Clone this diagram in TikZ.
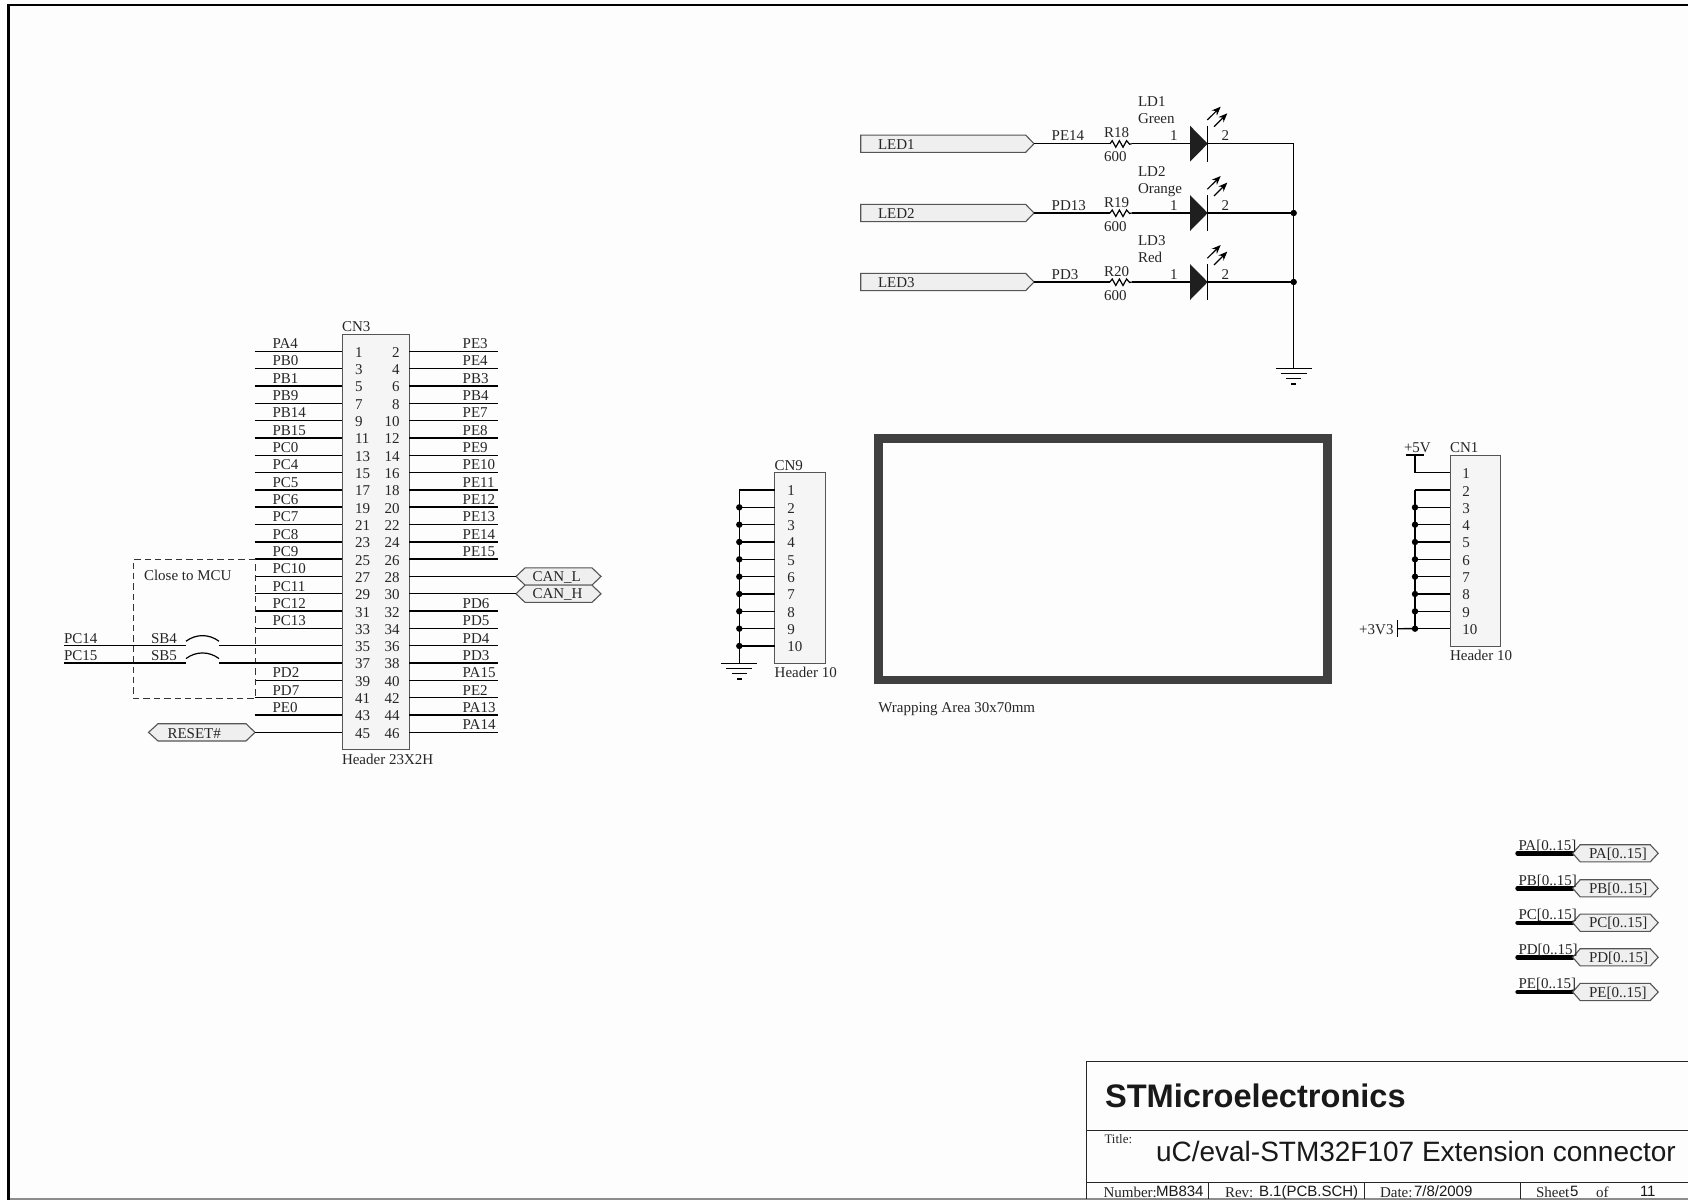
\documentclass[tikz,border=0pt]{standalone}
\usepackage{fontspec}
\setmainfont{Liberation Serif}
\newfontfamily\arialf{Liberation Sans}
\usetikzlibrary{arrows.meta}
\definecolor{paper}{HTML}{FDFDFD}
\definecolor{boxfill}{HTML}{F5F5F5}
\definecolor{flagfill}{HTML}{EFEFEF}
\definecolor{boxline}{HTML}{555555}
\definecolor{wrapline}{HTML}{404040}
\tikzset{
  lbl/.style={inner sep=0pt,outer sep=0pt,anchor=base west,text=black!85,yshift=-0.35pt,font=\fontsize{7.5}{9}\selectfont},
  lblr/.style={lbl,anchor=base east},
  pinnum/.style={inner sep=0pt,outer sep=0pt,anchor=west,text=black!85,yshift=-0.5pt,font=\fontsize{7.5}{9}\selectfont},
  pinnumr/.style={pinnum,anchor=east},
  wire/.style={draw=black,line width=0.7pt},
  conbox/.style={draw=boxline,fill=boxfill,line width=0.5pt},
  flag/.style={draw=boxline,fill=flagfill,line width=0.55pt,line join=miter},
  bus/.style={draw=black,line width=2.2pt,line cap=round},
  frameline/.style={draw=black,line width=1.3pt},
  tb/.style={draw=black!85,line width=0.5pt},
  arialtxt/.style={inner sep=0pt,outer sep=0pt,anchor=base west,text=black!90},
  jdot/.style={fill=black},
  ledarrow/.style={draw=black,line width=0.6pt,-{Stealth[length=4.5pt,width=3.6pt]}}
}
\newcommand{\gndsym}[2]{%
  \draw[wire] (#1-18,#2) -- (#1+18,#2);
  \draw[wire] (#1-13,#2+5.2) -- (#1+13,#2+5.2);
  \draw[wire] (#1-7.5,#2+10.4) -- (#1+7.5,#2+10.4);
  \draw[wire] (#1-2.5,#2+15.6) -- (#1+2.5,#2+15.6);
}
\begin{document}
\begin{tikzpicture}[x=0.5pt,y=-0.5pt]
\useasboundingbox (0,0) rectangle (1688,1200);
\fill[paper] (0,0) rectangle (1688,1200);
% sheet frame
\draw[draw=black!45,line width=0.6pt] (8.7,1199) -- (1688,1199);
\draw[frameline] (8.7,1200) -- (8.7,5) -- (1688,5);

% ---------- CN3 ----------
\draw[conbox] (342,334.3) rectangle (409.3,749.5);
\coordinate (cn3box) at (342,334.3);
\node[lbl] (cn3ref) at (342,331) {CN3};
\node[lbl] (cn3val) at (342,763.5) {Header 23X2H};
\foreach \i in {1,...,23}{
  \coordinate (cl\i) at (342,{351.3+(\i-1)*17.32});
  \coordinate (cr\i) at (409.3,{351.3+(\i-1)*17.32});
  \coordinate (el\i) at (254.6,{351.3+(\i-1)*17.32});
  \coordinate (er\i) at (498.3,{351.3+(\i-1)*17.32});
  \pgfmathtruncatemacro{\odd}{2*\i-1}
  \pgfmathtruncatemacro{\even}{2*\i}
  \node[pinnum] (po\i) at (355,{351.3+(\i-1)*17.32}) {\odd};
  \node[pinnumr] (pe\i) at (399.5,{351.3+(\i-1)*17.32}) {\even};
}
\foreach \i/\t in {1/PA4,2/PB0,3/PB1,4/PB9,5/PB14,6/PB15,7/PC0,8/PC4,9/PC5,10/PC6,11/PC7,12/PC8,13/PC9,14/PC10,15/PC11,16/PC12,17/PC13,20/PD2,21/PD7,22/PE0}{
  \draw[wire] (el\i) -- (cl\i);
  \node[lbl] (ll\i) at ([shift={(18,-3.4)}]el\i) {\t};
}
\foreach \i/\t in {1/PE3,2/PE4,3/PB3,4/PB4,5/PE7,6/PE8,7/PE9,8/PE10,9/PE11,10/PE12,11/PE13,12/PE14,13/PE15,16/PD6,17/PD5,18/PD4,19/PD3,20/PA15,21/PE2,22/PA13,23/PA14}{
  \draw[wire] (cr\i) -- (er\i);
  \node[lbl] (lr\i) at ([shift={(-35.6,-3.4)}]er\i) {\t};
}
% CAN flags
\foreach \i/\t/\nm in {14/CAN\_L/canl,15/CAN\_H/canh}{
  \coordinate (\nm) at (516,{351.3+(\i-1)*17.32});
  \draw[flag] (\nm) -- ++(9,-8.6) -- ++(67,0) -- ++(9,8.6) -- ++(-9,8.6) -- ++(-67,0) -- cycle;
  \node[pinnum] (\nm t) at ([shift={(16.5,0)}]\nm) {\t};
  \draw[wire] (cr\i) -- (\nm);
}
% RESET flag
\coordinate (rsttip) at (255,{351.3+22*17.32});
\draw[flag] (rsttip) -- ++(-9,-8.6) -- ++(-88,0) -- ++(-9.5,8.6) -- ++(9.5,8.6) -- ++(88,0) -- cycle;
\node[pinnum] (rstt) at ([shift={(-87.5,0)}]rsttip) {RESET\#};
\draw[wire] (rsttip) -- (cl23);
% Close to MCU dashed area
\draw[draw=black!80,line width=0.45pt,dash pattern=on 3.2pt off 2pt] (255,559.3) -- (133.4,559.3) -- (133.4,698.2) -- (255,698.2) -- (255,559.3);
\node[lbl] (closemcu) at (144,580) {Close to MCU};
% solder bridges
\foreach \i/\sb/\pc/\nm in {18/SB4/PC14/a,19/SB5/PC15/b}{
  \coordinate (sbl\nm) at (186,{351.3+(\i-1)*17.32});
  \coordinate (sbr\nm) at (219,{351.3+(\i-1)*17.32});
  \coordinate (pc\nm) at (64,{351.3+(\i-1)*17.32});
  \draw[wire] (pc\nm) -- (sbl\nm);
  \draw[wire] (sbr\nm) -- (cl\i);
  \draw[draw=black,line width=0.6pt] ([shift={(0,-4.5)}]sbl\nm) .. controls ([shift={(10,-12)}]sbl\nm) and ([shift={(23,-12)}]sbl\nm) .. ([shift={(0,-4.5)}]sbr\nm);
  \node[lbl] (sbt\nm) at ([shift={(-35,-3.4)}]sbl\nm) {\sb};
  \node[lbl] (pct\nm) at ([shift={(0,-3.4)}]pc\nm) {\pc};
}

% ---------- LEDs ----------
\foreach \k/\y/\lab/\net/\res/\col in {1/143.7/LED1/PE14/R18/Green,2/213/LED2/PD13/R19/Orange,3/282/LED3/PD3/R20/Red}{
  \coordinate (ledtip\k) at (1034,\y);
  \coordinate (resl\k) at (1110,\y);
  \coordinate (resr\k) at (1131.7,\y);
  \coordinate (dioa\k) at (1190,\y);
  \coordinate (dioc\k) at (1207.7,\y);
  \coordinate (busj\k) at (1293.7,\y);
  \draw[flag] (ledtip\k) -- ++(-8.3,-8.6) -- (860.7,\y-8.6) -- (860.7,\y+8.6) -- (1025.7,\y+8.6) -- cycle;
  \node[pinnum] (ledt\k) at (878,\y) {\lab};
  \draw[wire] (ledtip\k) -- (resl\k);
  \draw[draw=black,line width=0.6pt,line join=miter] (resl\k) -- ++(2.2,-3) -- ++(3.6,6.5) -- ++(3.6,-6.5) -- ++(3.6,6.5) -- ++(3.6,-6.5) -- ++(3,3.5) -- (resr\k);
  \draw[wire] (resr\k) -- (dioa\k);
  \fill[black!88] (1190,\y-18) -- (dioc\k) -- (1190,\y+18) -- cycle;
  \draw[draw=black,line width=0.55pt] (1207.7,\y-18) -- (1207.7,\y+18);
  \draw[wire] (dioc\k) -- (busj\k);
  \draw[ledarrow] (1207.3,\y-23.7) -- (1220.7,\y-37);
  \draw[ledarrow] (1214,\y-17) -- (1227.3,\y-30.4);
  \node[lbl] (nett\k) at (1051.7,\y-3.7) {\net};
  \node[lbl] (rest\k) at (1104,\y-6.5) {\res};
  \node[lbl] (resv\k) at (1104,\y+17.5) {600};
  \node[lbl] (ldn\k) at (1138,\y-37.7) {LD\k};
  \node[lbl] (ldc\k) at (1138,\y-20.5) {\col};
  \node[lbl] (ldp\k) at (1170,\y-3.7) {1};
  \node[lbl] (ldq\k) at (1221.7,\y-3.7) {2};
}
\coordinate (gndled) at (1293.7,368.3);
\draw[wire] (busj1) -- (gndled);
\gndsym{1293.7}{368.3}
\fill[jdot] (busj2) circle[radius=1.6pt];
\fill[jdot] (busj3) circle[radius=1.6pt];

% ---------- wrapping area ----------
\draw[draw=wrapline,line width=4.3pt,line join=miter] (878.3,438.3) rectangle (1327.4,680);
\node[lbl] (wrapt) at (878.3,711.7) {Wrapping Area 30x70mm};

% ---------- CN9 ----------
\draw[conbox] (774.7,472.7) rectangle (825.3,663.3);
\node[lbl] (cn9ref) at (774.5,469.5) {CN9};
\node[lbl] (cn9val) at (774.7,676.7) {Header 10};
\coordinate (cn9gnd) at (739.3,663.3);
\foreach \i in {1,...,10}{
  \coordinate (n\i) at (774.7,{490+(\i-1)*17.33});
  \coordinate (nb\i) at (739.3,{490+(\i-1)*17.33});
  \draw[wire] (nb\i) -- (n\i);
  \node[pinnum] (nt\i) at (787.3,{490+(\i-1)*17.33}) {\i};
}
\foreach \i in {2,...,10}{\fill[jdot] (nb\i) circle[radius=1.6pt];}
\draw[wire] (nb1) -- (cn9gnd);
\gndsym{739.3}{663.3}

% ---------- CN1 ----------
\draw[conbox] (1450,455.3) rectangle (1500.7,646);
\node[lbl] (cn1ref) at (1450,451.7) {CN1};
\node[lbl] (cn1val) at (1450,660) {Header 10};
\foreach \i in {1,...,10}{
  \coordinate (m\i) at (1450,{472.7+(\i-1)*17.33});
  \coordinate (mb\i) at (1415,{472.7+(\i-1)*17.33});
  \draw[wire] (mb\i) -- (m\i);
  \node[pinnum] (mt\i) at (1462.3,{472.7+(\i-1)*17.33}) {\i};
}
\foreach \i in {3,...,10}{\fill[jdot] (mb\i) circle[radius=1.6pt];}
\draw[wire] (mb2) -- (mb10);
\coordinate (p5v) at (1415,455);
\draw[wire] (mb1) -- (p5v);
\draw[wire] (1406,455) -- (1424,455);
\node[lbl] (p5vt) at (1404,451.7) {+5V};
\coordinate (p33) at (1397.7,628.7);
\draw[wire] (p33) -- (mb10);
\draw[wire] (1397.7,620) -- (1397.7,637.3);
\node[lblr] (p33t) at (1393.5,633.5) {+3V3};

% ---------- bus ports ----------
\foreach \k/\y/\t in {a/853.3/PA[0..15],b/888.3/PB[0..15],c/922.7/PC[0..15],d/957.3/PD[0..15],e/992/PE[0..15]}{
  \coordinate (bs\k) at (1517.5,\y);
  \coordinate (bt\k) at (1572.7,\y);
  \draw[bus] (bs\k) -- (bt\k);
  \draw[flag] (bt\k) -- ++(7.5,-8.6) -- ++(70,0) -- ++(8,8.6) -- ++(-8,8.6) -- ++(-70,0) -- cycle;
  \node[lbl] (bl\k) at (1518.5,\y-4) {\t};
  \node[pinnum] (bf\k) at (1589,\y) {\t};
}

% ---------- title block ----------
\draw[tb] (1688,1061) -- (1086,1061) -- (1086,1199);
\draw[tb] (1086,1130.3) -- (1688,1130.3);
\draw[tb] (1086,1182.3) -- (1688,1182.3);
\draw[tb] (1208,1182.3) -- (1208,1199);
\draw[tb] (1364,1182.3) -- (1364,1199);
\draw[tb] (1520,1182.3) -- (1520,1199);
\node[arialtxt,font={\arialf\bfseries\fontsize{16.3}{18}\selectfont}] (st) at (1105,1107) {STMicroelectronics};
\node[lbl,font=\fontsize{6.5}{8}\selectfont] (tt) at (1104.5,1143) {Title:};
\node[arialtxt,font={\arialf\fontsize{14}{16}\selectfont}] (ttv) at (1156,1161) {uC/eval-STM32F107 Extension connector};
\node[lbl] (numt) at (1103.5,1196.5) {Number:};
\node[arialtxt,font={\arialf\fontsize{7.5}{9}\selectfont}] (numv) at (1156,1196.5) {MB834};
\node[lbl] (revt) at (1225,1196.5) {Rev:};
\node[arialtxt,font={\arialf\fontsize{7.5}{9}\selectfont}] (revv) at (1259,1196.5) {B.1(PCB.SCH)};
\node[lbl] (datet) at (1380,1196.5) {Date:};
\node[arialtxt,font={\arialf\fontsize{7.5}{9}\selectfont}] (datev) at (1414,1196.5) {7/8/2009};
\node[lbl] (sheett) at (1536,1196.5) {Sheet};
\node[arialtxt,font={\arialf\fontsize{7.5}{9}\selectfont}] (sheetv) at (1570,1196.5) {5};
\node[lbl] (oft) at (1596,1196.5) {of};
\node[arialtxt,font={\arialf\fontsize{7.5}{9}\selectfont}] (sheetn) at (1640,1196.5) {11};
\end{tikzpicture}
\end{document}
